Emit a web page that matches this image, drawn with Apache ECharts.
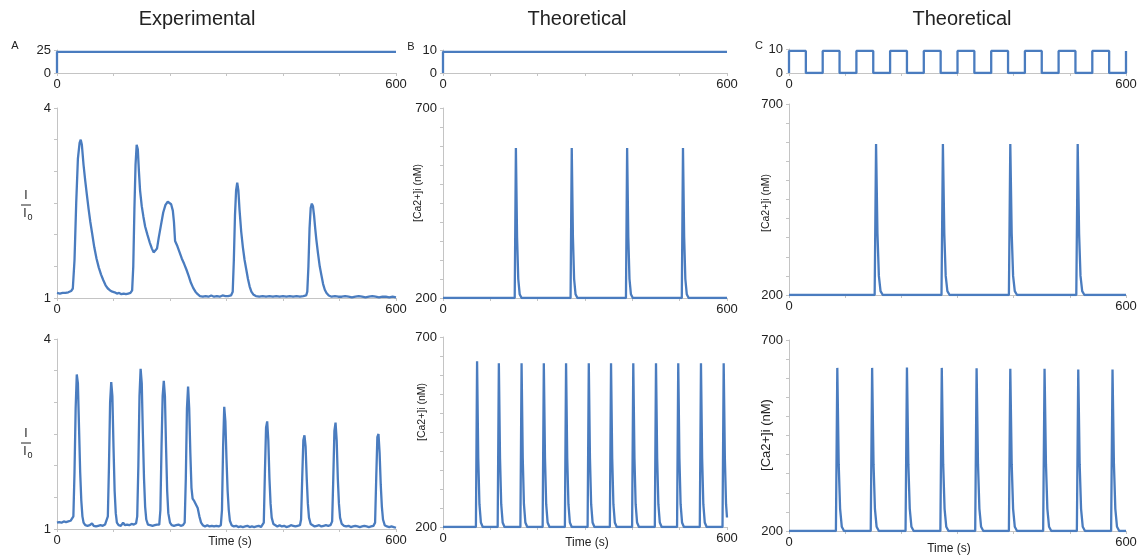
<!DOCTYPE html>
<html>
<head>
<meta charset="utf-8">
<script src="https://cdn.jsdelivr.net/npm/echarts@6/dist/echarts.min.js"></script>
<style>
  html, body { margin: 0; padding: 0; background: #fff; }
  #chart { width: 1144px; height: 560px; }
</style>
</head>
<body>
<div id="chart"></div>
<script>
// ---- time axis (s) shared by every panel ----
const timeRange = [0, 600];
const timeStep = 100;

// ---- stimulus traces (top row) ----
const stimExperimental = [[0, 0], [0, 23], [600, 23]];
const stimConstant = [[0, 0], [0, 9.2], [600, 9.2]];
const stimPulsed = [
  [0, 0], [0, 9.2], [30, 9.2], [30, 0], [60, 0], [60, 9.2], [90, 9.2], [90, 0],
  [120, 0], [120, 9.2], [150, 9.2], [150, 0], [180, 0], [180, 9.2], [210, 9.2], [210, 0],
  [240, 0], [240, 9.2], [270, 9.2], [270, 0], [300, 0], [300, 9.2], [330, 9.2], [330, 0],
  [360, 0], [360, 9.2], [390, 9.2], [390, 0], [420, 0], [420, 9.2], [450, 9.2], [450, 0],
  [480, 0], [480, 9.2], [510, 9.2], [510, 0], [540, 0], [540, 9.2], [570, 9.2], [570, 0],
  [600, 0], [600, 9.2]
];

// ---- measured fluorescence ratio I/I0 ----
const expMiddle = [
  [0,1.08],[5,1.07],[10,1.08],[15,1.08],[20,1.09],[25,1.11],[28,1.15],[31,1.6],[34,2.5],[37,3.2],
  [40,3.45],[42,3.5],[44,3.42],[47,3.1],[50,2.85],[53,2.62],[56,2.4],[59,2.2],[62,2.03],[66,1.8],
  [70,1.62],[74,1.48],[78,1.37],[82,1.28],[86,1.2],[90,1.15],[94,1.12],[98,1.1],[102,1.09],[106,1.07],
  [110,1.08],[114,1.06],[118,1.07],[122,1.06],[126,1.07],[130,1.08],[133,1.12],[135,1.5],[137,2.4],[139,3.1],
  [141,3.42],[143,3.35],[145,3.0],[147,2.7],[150,2.45],[153,2.28],[156,2.13],[160,2.0],[164,1.88],[168,1.78],
  [171,1.72],[174,1.71],[177,1.78],[180,1.95],[184,2.15],[188,2.35],[192,2.47],[196,2.52],[199,2.53],[202,2.48],
  [205,2.38],[207,2.2],[209,1.9],[213,1.82],[217,1.72],[221,1.62],[225,1.54],[229,1.45],[233,1.35],[237,1.24],
  [241,1.16],[245,1.1],[249,1.06],[253,1.03],[258,1.02],[263,1.03],[268,1.02],[273,1.04],[278,1.02],[283,1.03],
  [288,1.02],[293,1.04],[298,1.03],[303,1.03],[308,1.04],[311,1.1],[313,1.6],[315,2.3],[317,2.7],[319,2.82],
  [321,2.7],[323,2.4],[326,2.05],[329,1.8],[332,1.6],[335,1.45],[338,1.3],[341,1.18],[344,1.1],[348,1.05],
  [352,1.03],[358,1.02],[364,1.03],[370,1.02],[376,1.03],[382,1.02],[388,1.03],[394,1.02],[400,1.03],[406,1.02],
  [412,1.03],[418,1.02],[424,1.03],[430,1.02],[436,1.03],[441,1.04],[443,1.1],[445,1.5],[447,2.1],[449,2.42],
  [451,2.49],[453,2.45],[455,2.3],[457,2.1],[459,1.92],[462,1.7],[465,1.5],[468,1.36],[471,1.22],[474,1.13],
  [477,1.08],[481,1.04],[486,1.02],[492,1.03],[498,1.02],[504,1.02],[510,1.03],[516,1.02],[522,1.01],[528,1.02],
  [534,1.03],[540,1.02],[546,1.01],[552,1.02],[558,1.03],[564,1.02],[570,1.01],[576,1.02],[582,1.02],[588,1.01],
  [594,1.02],[600,1.01]
];

const expBottom = [
  [0,1.1],[4,1.11],[8,1.1],[12,1.12],[16,1.11],[20,1.12],[24,1.13],[27,1.14],[29,1.2],[31,1.9],
  [33,2.9],[35,3.44],[37,3.3],[39,2.6],[41,1.9],[43,1.45],[45,1.2],[47,1.1],[50,1.06],[54,1.05],
  [58,1.06],[62,1.09],[65,1.05],[69,1.04],[73,1.05],[77,1.06],[81,1.05],[85,1.07],[88,1.08],[90,1.2],
  [92,2.0],[94,3.0],[96,3.32],[98,3.1],[100,2.3],[102,1.6],[104,1.25],[106,1.1],[109,1.06],[113,1.05],
  [117,1.1],[120,1.06],[124,1.07],[128,1.06],[132,1.08],[136,1.07],[140,1.09],[142,1.2],[144,2.0],[146,3.1],
  [148,3.53],[150,3.3],[152,2.5],[154,1.8],[156,1.35],[158,1.15],[161,1.07],[165,1.06],[169,1.05],[173,1.06],
  [177,1.07],[181,1.07],[183,1.3],[185,2.3],[187,3.1],[189,3.34],[191,3.1],[193,2.3],[195,1.6],[197,1.25],
  [200,1.1],[203,1.06],[207,1.05],[211,1.06],[215,1.07],[219,1.05],[223,1.06],[226,1.1],[228,1.8],[230,2.9],
  [232,3.25],[234,2.9],[236,2.2],[238,1.65],[240,1.48],[243,1.44],[246,1.42],[249,1.33],[252,1.2],[255,1.1],
  [258,1.06],[262,1.04],[266,1.06],[270,1.04],[274,1.05],[278,1.04],[282,1.05],[286,1.04],[290,1.06],[292,1.3],
  [294,2.3],[296,2.93],[298,2.7],[300,2.1],[302,1.6],[304,1.3],[306,1.13],[309,1.06],[313,1.04],[317,1.05],
  [321,1.03],[325,1.04],[329,1.03],[333,1.04],[337,1.05],[341,1.03],[345,1.04],[349,1.03],[353,1.04],[357,1.05],
  [361,1.03],[364,1.05],[366,1.1],[368,1.9],[370,2.6],[372,2.7],[374,2.4],[376,1.8],[378,1.4],[380,1.18],
  [383,1.08],[386,1.05],[390,1.04],[394,1.06],[398,1.04],[402,1.05],[406,1.03],[410,1.04],[414,1.06],[418,1.05],
  [422,1.04],[426,1.05],[430,1.06],[432,1.15],[434,1.8],[436,2.4],[438,2.48],[440,2.3],[442,1.8],[444,1.4],
  [446,1.18],[449,1.08],[452,1.05],[456,1.04],[460,1.05],[464,1.06],[468,1.04],[472,1.05],[476,1.06],[480,1.05],
  [484,1.06],[487,1.12],[489,1.8],[491,2.55],[493,2.68],[495,2.4],[497,1.8],[499,1.4],[501,1.18],[504,1.08],
  [508,1.05],[512,1.04],[516,1.05],[520,1.03],[524,1.04],[528,1.05],[532,1.04],[536,1.03],[540,1.04],[544,1.05],
  [548,1.04],[552,1.03],[556,1.04],[560,1.05],[563,1.1],[565,1.8],[567,2.45],[569,2.5],[571,2.2],[573,1.7],
  [575,1.35],[577,1.15],[580,1.06],[584,1.04],[588,1.03],[592,1.04],[596,1.03],[600,1.02]
];

// ---- simulated cytosolic calcium (nM) ----
const theoConstSlow = [
  [0,200],[151.5,200],[154,595],[156.5,360],[159,250],[162,210],[166,200],
  [269.5,200],[272,595],[274.5,360],[277,250],[280,210],[284,200],
  [386.5,200],[389,595],[391.5,360],[394,250],[397,210],[401,200],
  [504.5,200],[507,595],[509.5,360],[512,250],[515,210],[519,200],[600,200]
];

const theoConstFast = [
  [0,200],[69.5,200],[72,636],[74.5,380],[77,260],[80,212],[84,200],
  [115.5,200],[118,631],[120.5,380],[123,260],[126,212],[130,200],
  [163.5,200],[166,631],[168.5,380],[171,260],[174,212],[178,200],
  [210.5,200],[213,631],[215.5,380],[218,260],[221,212],[225,200],
  [257.5,200],[260,631],[262.5,380],[265,260],[268,212],[272,200],
  [305.5,200],[308,631],[310.5,380],[313,260],[316,212],[320,200],
  [352.5,200],[355,631],[357.5,380],[360,260],[363,212],[367,200],
  [399.5,200],[402,631],[404.5,380],[407,260],[410,212],[414,200],
  [447.5,200],[450,631],[452.5,380],[455,260],[458,212],[462,200],
  [494.5,200],[497,631],[499.5,380],[502,260],[505,212],[509,200],
  [542.5,200],[545,631],[547.5,380],[550,260],[553,212],[557,200],
  [590.5,200],[593,631],[595.5,380],[598,260],[600,225]
];

const theoPulsedSlow = [
  [0,200],[152.5,200],[155,595],[157.5,360],[160,250],[163,210],[167,200],
  [271.5,200],[274,595],[276.5,360],[279,250],[282,210],[286,200],
  [391.5,200],[394,595],[396.5,360],[399,250],[402,210],[406,200],
  [511.5,200],[514,595],[516.5,360],[519,250],[522,210],[526,200],[600,200]
];

const theoPulsedFast = [
  [0,200],[83.5,200],[86,627],[88.5,375],[91,258],[94,211],[98,200],
  [145.5,200],[148,627],[150.5,375],[153,258],[156,211],[160,200],
  [207.5,200],[210,628],[212.5,375],[215,258],[218,211],[222,200],
  [269.5,200],[272,627],[274.5,375],[277,258],[280,211],[284,200],
  [331.5,200],[334,626],[336.5,375],[339,258],[342,211],[346,200],
  [391.5,200],[394,625],[396.5,375],[399,258],[402,211],[406,200],
  [452.5,200],[455,625],[457.5,375],[460,258],[463,211],[467,200],
  [512.5,200],[515,623],[517.5,375],[520,258],[523,211],[527,200],
  [573.5,200],[576,623],[578.5,375],[581,258],[584,211],[588,200],[600,200]
];

// ---- value ranges of the vertical axes: [min, max, tick step] ----
const stimRangeExp = [0, 25, 25];
const stimRangeTheo = [0, 10, 10];
const ratioRange = [1, 4, 0.5];
const calciumRange = [200, 700, 50];

// ---- text ----
const columnTitles = ['Experimental', 'Theoretical', 'Theoretical'];
const panelLetters = ['A', 'B', 'C'];
const calciumLabel = '[Ca2+]i (nM)';
const timeLabel = 'Time (s)';

const FONT = '"Liberation Sans", Arial, Helvetica, sans-serif';
const LINE = '#4a7cbf';
const AXIS = '#c4c4c4';
const INK = '#222';

// panel boxes: [left, top, width, height] in px
const boxes = [
  [57, 50, 339, 23], [57, 108, 339, 190], [57, 339, 339, 190],
  [443, 50, 284, 23], [443, 108, 284, 190], [443, 337, 284, 190],
  [789, 49, 337, 24], [789, 104, 337, 191], [789, 340, 337, 191]
];
const panelRanges = [
  stimRangeExp, ratioRange, ratioRange,
  stimRangeTheo, calciumRange, calciumRange,
  stimRangeTheo, calciumRange, calciumRange
];
const panelData = [
  stimExperimental, expMiddle, expBottom,
  stimConstant, theoConstSlow, theoConstFast,
  stimPulsed, theoPulsedSlow, theoPulsedFast
];

function endsOnly(min, max) {
  return function (v) {
    return (Math.abs(v - min) < 1e-9 || Math.abs(v - max) < 1e-9) ? String(v) : '';
  };
}

const grid = boxes.map(b => ({ left: b[0], top: b[1], width: b[2], height: b[3], containLabel: false }));

const xAxis = boxes.map((b, i) => ({
  type: 'value', gridIndex: i,
  min: timeRange[0], max: timeRange[1], interval: timeStep,
  axisLine: { show: true, onZero: false, lineStyle: { color: AXIS, width: 1 } },
  axisTick: { show: true, length: 3, lineStyle: { color: AXIS } },
  splitLine: { show: false },
  axisLabel: {
    show: true, margin: 5, color: INK, fontSize: 13, fontFamily: FONT,
    showMinLabel: true, showMaxLabel: true,
    formatter: endsOnly(timeRange[0], timeRange[1])
  }
}));

const yAxis = panelRanges.map((r, i) => ({
  type: 'value', gridIndex: i,
  min: r[0], max: r[1], interval: r[2],
  axisLine: { show: true, lineStyle: { color: AXIS, width: 1 } },
  axisTick: { show: true, length: 3, lineStyle: { color: AXIS } },
  splitLine: { show: false },
  axisLabel: {
    show: true, margin: 6, color: INK, fontSize: 13, fontFamily: FONT,
    showMinLabel: true, showMaxLabel: true,
    formatter: endsOnly(r[0], r[1])
  }
}));

const series = panelData.map((d, i) => ({
  type: 'line', xAxisIndex: i, yAxisIndex: i,
  data: d, showSymbol: false, symbol: 'none', smooth: false,
  lineStyle: { color: LINE, width: 2.3 },
  itemStyle: { color: LINE },
  clip: true, silent: true
}));

// stacked I / I0 ratio label
function ratioLabel(cx, cy) {
  return {
    type: 'group', children: [
      { type: 'text', x: cx, y: cy - 9, style: { text: 'I', font: '12px ' + FONT, fill: INK, align: 'center', verticalAlign: 'middle' } },
      { type: 'line', shape: { x1: cx - 5, y1: cy, x2: cx + 5, y2: cy }, style: { stroke: INK, lineWidth: 1 } },
      { type: 'text', x: cx - 1, y: cy + 9, style: { text: 'I', font: '12px ' + FONT, fill: INK, align: 'center', verticalAlign: 'middle' } },
      { type: 'text', x: cx + 4, y: cy + 13, style: { text: '0', font: '9px ' + FONT, fill: INK, align: 'center', verticalAlign: 'middle' } }
    ]
  };
}

function vText(text, x, y, size) {
  return {
    type: 'text', x: x, y: y, rotation: Math.PI / 2,
    style: { text: text, font: size + 'px ' + FONT, fill: INK, align: 'center', verticalAlign: 'middle' }
  };
}

function hText(text, x, y, size) {
  return {
    type: 'text', x: x, y: y,
    style: { text: text, font: size + 'px ' + FONT, fill: INK, align: 'center', verticalAlign: 'middle' }
  };
}

const graphic = [
  hText(columnTitles[0], 197, 19, 20),
  hText(columnTitles[1], 577, 19, 20),
  hText(columnTitles[2], 962, 19, 20),
  hText(panelLetters[0], 15, 46, 11),
  hText(panelLetters[1], 411, 47, 11),
  hText(panelLetters[2], 759, 46, 11),
  ratioLabel(26, 205),
  ratioLabel(26, 443),
  vText(calciumLabel, 418, 193, 10.5),
  vText(calciumLabel, 422, 412, 10.5),
  vText(calciumLabel, 766, 203, 10.5),
  vText(calciumLabel, 766, 435, 13),
  hText(timeLabel, 230, 542, 12),
  hText(timeLabel, 587, 543, 12),
  hText(timeLabel, 949, 549, 12)
];

const chart = echarts.init(document.getElementById('chart'), null, { renderer: 'canvas' });
chart.setOption({
  animation: false,
  backgroundColor: '#fff',
  grid: grid,
  xAxis: xAxis,
  yAxis: yAxis,
  series: series,
  graphic: graphic
});
</script>
</body>
</html>
